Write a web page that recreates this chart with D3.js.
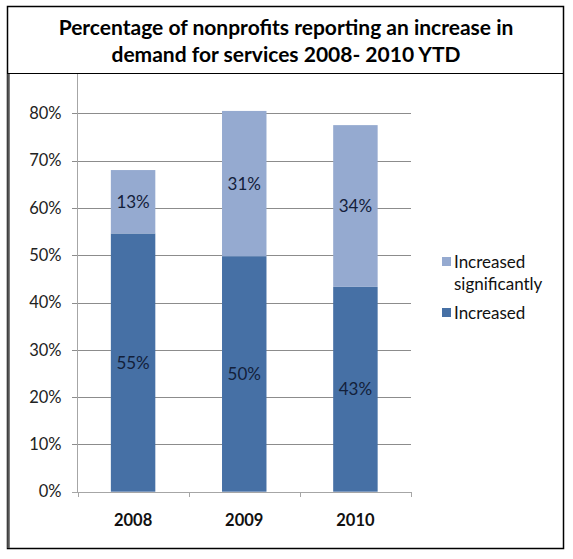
<!DOCTYPE html>
<html>
<head>
<meta charset="utf-8">
<script src="https://cdn.jsdelivr.net/npm/d3@7"></script>
<style>
  body { margin: 0; background: #fff; }
  text { font-family: Lato, "Open Sans", sans-serif; }
</style>
</head>
<body>
<svg id="chart" width="573" height="559"></svg>
<script>
// values (percent)
var years = ["2008", "2009", "2010"];
var increased = [54.6, 49.8, 43.3];
var increasedSig = [13.4, 30.7, 34.2];
var seriesNames = ["Increased significantly", "Increased"];
var yTicks = [0, 10, 20, 30, 40, 50, 60, 70, 80];
var titleLines = ["Percentage of nonprofits reporting an increase in",
                  "demand for services 2008- 2010 YTD"];

var svg = d3.select("#chart");
var darkBlue = "#4670a5",
    lightBlue = "#95aad0";

// outer frame and title box
svg.append("rect").attr("width", 573).attr("height", 559).attr("fill", "#fff");
svg.append("rect")
  .attr("x", 7.5).attr("y", 6.5).attr("width", 556).attr("height", 542)
  .attr("fill", "none").attr("stroke", "#000").attr("stroke-width", 1.5);
svg.append("line")
  .attr("x1", 7).attr("x2", 564).attr("y1", 73.5).attr("y2", 73.5)
  .attr("stroke", "#000").attr("stroke-width", 1.2);
// heavier left edge
svg.append("line")
  .attr("x1", 8.5).attr("x2", 8.5).attr("y1", 74).attr("y2", 548)
  .attr("stroke", "#555").attr("stroke-width", 2.5);

svg.selectAll(".title").data(titleLines).enter().append("text")
  .attr("class", "title")
  .attr("x", 286).attr("y", function (d, i) { return 35 + i * 27; })
  .attr("text-anchor", "middle")
  .attr("font-size", 21).attr("font-weight", "bold")
  .attr("fill", "#000")
  .text(function (d) { return d; });

// scales
var y = d3.scaleLinear().domain([0, 80]).range([491.7, 113.3]);
var x = d3.scaleBand().domain(years).range([77.5, 411]).padding(0);
var barW = x.bandwidth() * 0.4;

// gridlines
svg.selectAll(".grid").data(yTicks).enter().append("line")
  .attr("class", "grid")
  .attr("x1", 72).attr("x2", 411)
  .attr("y1", function (d) { return Math.round(y(d)) + 0.5; })
  .attr("y2", function (d) { return Math.round(y(d)) + 0.5; })
  .attr("stroke", function (d) { return d === 0 ? "#a6a6a6" : "#8c8c8c"; });

// y axis
var yAxis = d3.axisLeft(y).tickValues(yTicks)
  .tickFormat(function (d) { return d + "%"; })
  .tickSize(0).tickPadding(16);
var yg = svg.append("g").attr("transform", "translate(77.5,0)").call(yAxis);
yg.select(".domain").remove();
yg.selectAll("text").attr("font-size", 16.5).attr("fill", "#222")
  .attr("font-family", "Lato, sans-serif");
svg.append("line")
  .attr("x1", 77.5).attr("x2", 77.5).attr("y1", 74).attr("y2", 492)
  .attr("stroke", "#a6a6a6");

// x axis
var xAxis = d3.axisBottom(x).tickSize(0).tickPadding(22);
var xg = svg.append("g").attr("transform", "translate(0,492)").call(xAxis);
xg.select(".domain").remove();
xg.selectAll("text").attr("font-size", 16.5).attr("font-weight", "bold")
  .attr("fill", "#111").attr("font-family", "Lato, sans-serif");
var xTickPos = years.map(function (d) { return x(d); }).concat([x.range()[1]]);
svg.selectAll(".xtick").data(xTickPos).enter().append("line")
  .attr("class", "xtick")
  .attr("x1", function (d) { return Math.round(d) + 0.5; })
  .attr("x2", function (d) { return Math.round(d) + 0.5; })
  .attr("y1", 492).attr("y2", 497)
  .attr("stroke", "#a6a6a6");

// stacked data
var rows = years.map(function (yr, i) {
  return { year: yr, inc: increased[i], sig: increasedSig[i] };
});
var stack = d3.stack().keys(["inc", "sig"])(rows);
var colors = { inc: darkBlue, sig: lightBlue };

var layers = svg.selectAll(".layer").data(stack).enter().append("g")
  .attr("class", "layer")
  .attr("fill", function (d) { return colors[d.key]; });

layers.selectAll("rect").data(function (d) { return d; }).enter().append("rect")
  .attr("x", function (d) { return x(d.data.year) + (x.bandwidth() - barW) / 2; })
  .attr("width", barW)
  .attr("y", function (d) { return y(d[1]); })
  .attr("height", function (d) { return y(d[0]) - y(d[1]); });

layers.selectAll(".lbl").data(function (d) { return d; }).enter().append("text")
  .attr("class", "lbl")
  .attr("x", function (d) { return x(d.data.year) + x.bandwidth() / 2; })
  .attr("y", function (d) { return (y(d[0]) + y(d[1])) / 2 + 6; })
  .attr("text-anchor", "middle")
  .attr("font-size", 17)
  .attr("fill", "#13203a")
  .text(function (d) { return Math.round(d[1] - d[0]) + "%"; });

// legend
var legend = [
  { name: seriesNames[0], color: lightBlue, lines: ["Increased", "significantly"], y: 257 },
  { name: seriesNames[1], color: darkBlue, lines: ["Increased"], y: 308 }
];
var lg = svg.selectAll(".legend").data(legend).enter().append("g").attr("class", "legend");
lg.append("rect")
  .attr("x", 442).attr("y", function (d) { return d.y; })
  .attr("width", 9).attr("height", 9)
  .attr("fill", function (d) { return d.color; });
lg.selectAll("text").data(function (d) {
    return d.lines.map(function (l, i) { return { t: l, y: d.y + 11 + i * 22 }; });
  }).enter().append("text")
  .attr("x", 454).attr("y", function (d) { return d.y; })
  .attr("font-size", 17).attr("fill", "#111")
  .text(function (d) { return d.t; });
</script>
</body>
</html>
